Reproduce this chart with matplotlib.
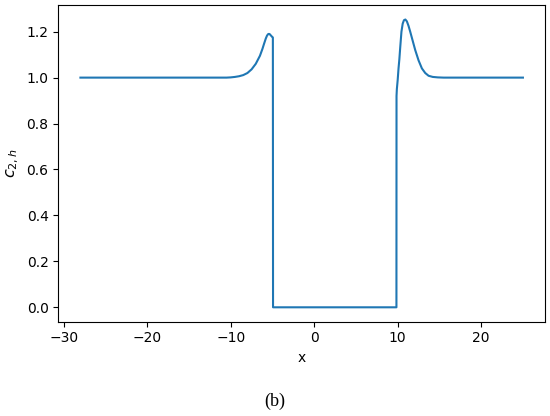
import matplotlib
matplotlib.use("Agg")
import matplotlib.pyplot as plt

# Data
x_vals = [-28.0, -10.5, -10.0, -9.5, -9.0, -8.5, -8.0, -7.5, -7.0, -6.5, -6.2, -6.0, -5.8,
          -5.65, -5.5, -5.35, -5.2, -5.05, -4.95, -4.93,
          9.85, 9.86, 9.9, 10.0, 10.1, 10.2, 10.3, 10.45, 10.6, 10.75, 10.92, 11.1,
          11.3, 11.5, 11.8, 12.1, 12.5, 12.9, 13.3, 13.7, 14.2, 14.8, 15.5, 25.0]
y_vals = [1.0, 1.0, 1.001, 1.003, 1.006, 1.011, 1.02, 1.036, 1.06, 1.095, 1.125, 1.148, 1.17,
          1.183, 1.19, 1.19, 1.184, 1.178, 1.175, 0.0,
          0.0, 0.92, 0.95, 0.99, 1.04, 1.08, 1.13, 1.2, 1.235, 1.25, 1.253, 1.245,
          1.225, 1.2, 1.16, 1.12, 1.075, 1.04, 1.02, 1.008, 1.003, 1.001, 1.0, 1.0]

x_ticks = [-30, -20, -10, 0, 10, 20]
y_ticks = [0.0, 0.2, 0.4, 0.6, 0.8, 1.0, 1.2]

dpi = 100
fig = plt.figure(figsize=(5.5, 4.16), dpi=dpi)
ax = fig.add_axes([0.106, 0.2267, 0.885, 0.761])
ax.plot(x_vals, y_vals, color="#1f77b4", lw=1.5)
ax.set_xticks(x_ticks)
ax.set_yticks(y_ticks)
ax.set_xlabel("x")
ax.set_ylabel(r"$c_{2,h}$", fontsize=11.5)
fig.text(0.5, 0.036, "(b)", ha="center", va="center",
         family=["Liberation Serif", "DejaVu Serif"], fontsize=13)
fig.savefig("out.png", dpi=dpi)
